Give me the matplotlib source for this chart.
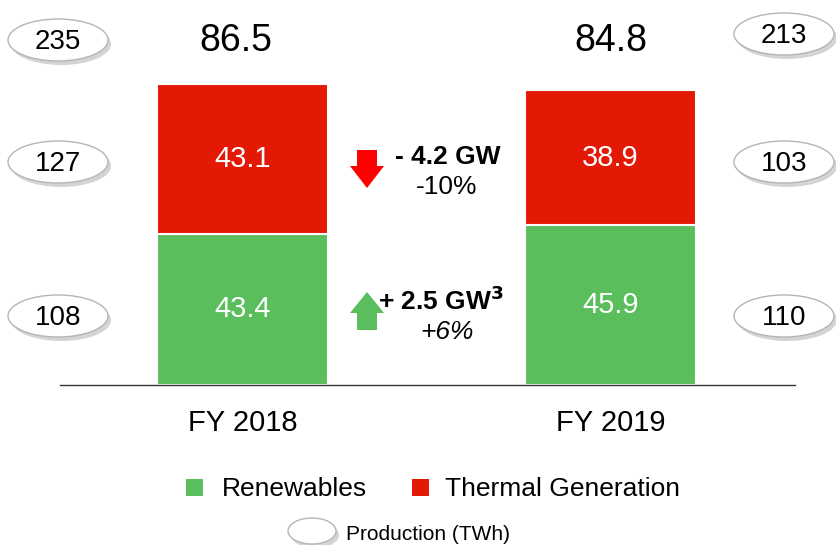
import matplotlib
matplotlib.use('Agg')
import matplotlib.pyplot as plt
from matplotlib.patches import Ellipse, Polygon, Rectangle

plt.rcParams['font.family'] = ['Liberation Sans', 'DejaVu Sans']

# data
years = ['FY 2018', 'FY 2019']
renewables = [43.4, 45.9]
thermal = [43.1, 38.9]
totals = [86.5, 84.8]
prod_total = [235, 213]
prod_thermal = [127, 103]
prod_renew = [108, 110]

GREEN = '#5BBE5D'
RED = '#E31906'

fig = plt.figure(figsize=(8.37, 5.45), dpi=100)

# main axes: baseline at y=385px, 3.48 px per unit
ax = fig.add_axes([60 / 837, 160 / 545, 735 / 837, 385 / 545])
x = [0, 1]
ax.bar(x, renewables, width=0.465, color=GREEN, edgecolor='white', linewidth=1.5)
ax.bar(x, thermal, width=0.465, bottom=renewables, color=RED, edgecolor='white', linewidth=1.5)
ax.set_xlim(-0.496, 1.501)
ax.set_ylim(0, 385 / 3.48)
for s in ['top', 'left', 'right']:
    ax.spines[s].set_visible(False)
ax.spines['bottom'].set_color('#333333')
ax.spines['bottom'].set_linewidth(1)
ax.set_yticks([])
ax.set_xticks(x)
ax.set_xticklabels(years, fontsize=21)
ax.tick_params(axis='x', length=0, pad=17)

for i in x:
    ax.text(i, renewables[i] / 2, f'{renewables[i]:.1f}', ha='center', va='center',
            color='white', fontsize=21)
    ax.text(i, renewables[i] + thermal[i] / 2, f'{thermal[i]:.1f}', ha='center', va='center',
            color='white', fontsize=21)

# overlay in pixel coordinates for ellipses, arrows, legend
ov = fig.add_axes([0, 0, 1, 1])
ov.set_xlim(0, 837)
ov.set_ylim(545, 0)
ov.axis('off')


def bubble(cx, cy, txt, w=100, h=42, fs=20):
    ov.add_patch(Ellipse((cx + 3, cy + 4), w, h, facecolor='#a0a0a0', edgecolor='none', alpha=0.45))
    ov.add_patch(Ellipse((cx, cy), w, h, facecolor='white', edgecolor='#b5b5b5', linewidth=1))
    if txt:
        ov.text(cx, cy + 2, txt, ha='center', va='center', fontsize=fs)


bubble(58, 40, str(prod_total[0]))
bubble(58, 162, str(prod_thermal[0]))
bubble(58, 316, str(prod_renew[0]))
bubble(784, 34, str(prod_total[1]))
bubble(784, 162, str(prod_thermal[1]))
bubble(784, 316, str(prod_renew[1]))

ov.text(236, 41, f'{totals[0]}', ha='center', va='center', fontsize=27)
ov.text(611, 41, f'{totals[1]}', ha='center', va='center', fontsize=27)

# arrows
ov.add_patch(Polygon([(357, 150), (377, 150), (377, 166), (384, 166), (367, 188),
                      (350, 166), (357, 166)], closed=True, facecolor='#FF0000', edgecolor='none'))
ov.add_patch(Polygon([(357, 330), (377, 330), (377, 313), (384, 313), (367, 292),
                      (350, 313), (357, 313)], closed=True, facecolor=GREEN, edgecolor='none'))

ov.text(448, 157, '- 4.2 GW', ha='center', va='center', fontsize=19, fontweight='bold')
ov.text(447, 187, '-10%', ha='center', va='center', fontsize=19)
ov.text(441, 301, r'+ 2.5 GW$^\mathbf{3}$', ha='center', va='center', fontsize=19, fontweight='bold')
ov.text(447, 332, '+6%', ha='center', va='center', fontsize=19, style='italic')

# legend
ov.add_patch(Rectangle((186, 479), 17, 17, facecolor=GREEN, edgecolor='none'))
ov.text(222, 489, 'Renewables', ha='left', va='center', fontsize=19)
ov.add_patch(Rectangle((412, 479), 17, 17, facecolor=RED, edgecolor='none'))
ov.text(445, 489, 'Thermal Generation', ha='left', va='center', fontsize=19)
bubble(312, 531, '', w=48, h=26)
ov.text(346, 534, 'Production (TWh)', ha='left', va='center', fontsize=15)

fig.savefig('out.png', dpi=100)
